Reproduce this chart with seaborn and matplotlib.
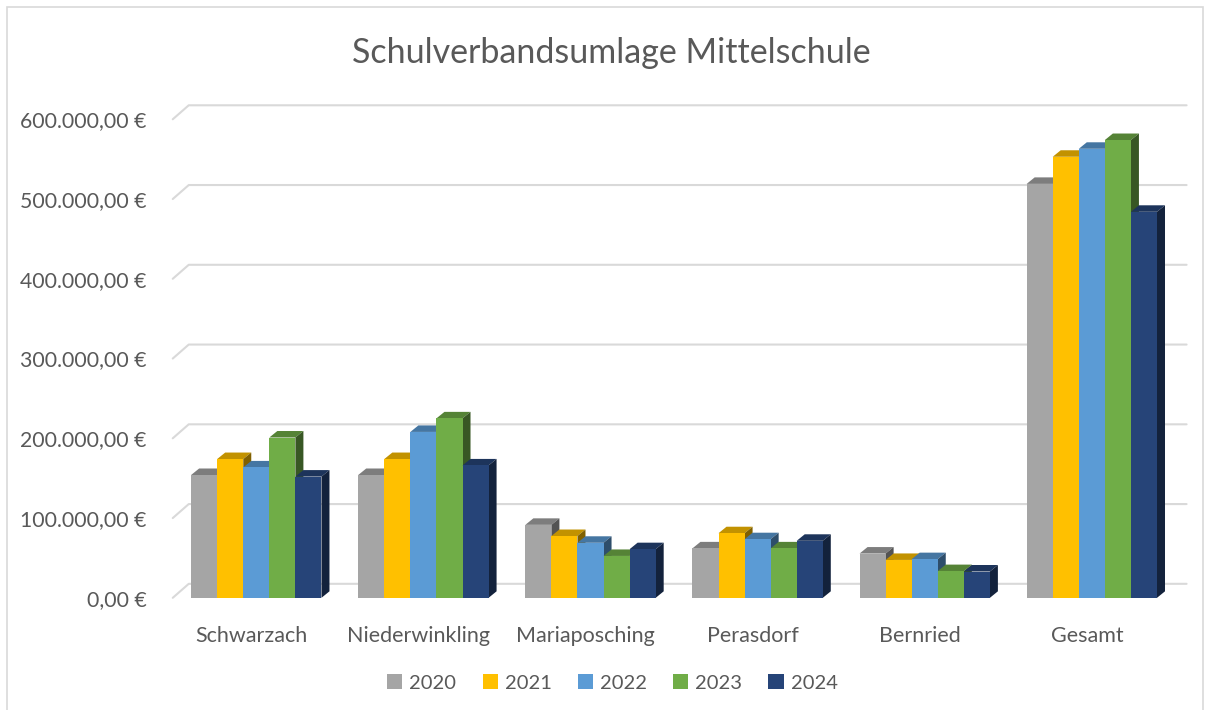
import numpy as np
import pandas as pd
import seaborn as sns
import matplotlib.pyplot as plt
import matplotlib.transforms as mtransforms
from matplotlib.patches import Polygon, Rectangle
from matplotlib.colors import to_rgb

gemeinden = ['Schwarzach', 'Niederwinkling', 'Mariaposching', 'Perasdorf', 'Bernried', 'Gesamt']
jahre = ['2020', '2021', '2022', '2023', '2024']

# Umlage je Gemeinde und Jahr
werte_2020 = [154000, 154000, 91500, 62000, 55500, 519000]
werte_2021 = [174000, 174000, 77500, 81000, 47500, 553000]
werte_2022 = [163500, 208000, 69000, 73500, 48500, 563000]
werte_2023 = [201000, 225000, 52500, 62000, 33500, 574000]
werte_2024 = [152000, 166000, 61000, 71500, 33000, 484000]

farben = ['#A5A5A5', '#FFC000', '#5B9BD5', '#70AD47', '#264478']
yticks = [0, 100000, 200000, 300000, 400000, 500000, 600000]

df = pd.DataFrame({
    'Gemeinde': gemeinden * 5,
    'Jahr': sum([[j] * 6 for j in jahre], []),
    'Betrag': werte_2020 + werte_2021 + werte_2022 + werte_2023 + werte_2024,
})

sns.set_style('white')
plt.rcParams['font.family'] = ['Lato', 'DejaVu Sans']
text_col = '#595959'

fig = plt.figure(figsize=(12.08, 7.10), dpi=100)
ax = fig.add_axes([0.143, 0.158, 0.830, 0.674])

sns.barplot(data=df, x='Gemeinde', y='Betrag', hue='Jahr', hue_order=jahre,
            palette=farben, width=0.78, gap=0, linewidth=0, saturation=1,
            errorbar=None, ax=ax)

ax.set_xlim(-0.5, 5.5)
ax.set_ylim(0, 600000)
ax.set_xlabel('')
ax.set_ylabel('')
sns.despine(ax=ax, left=True, bottom=True)
ax.set_yticks(yticks)
ax.set_yticklabels([f'{v:,.2f} €'.replace(',', 'X').replace('.', ',').replace('X', '.') for v in yticks])
ax.tick_params(axis='y', length=0, pad=19, labelsize=15.3, labelcolor=text_col)
ax.tick_params(axis='x', length=0, pad=20, labelsize=15.5, labelcolor=text_col)

# x labels sit a little left of the bar groups
shift = mtransforms.ScaledTranslation(-5 / 100, 0, fig.dpi_scale_trans)
for lab in ax.get_xticklabels():
    lab.set_transform(lab.get_transform() + shift)

handles, labels = ax.get_legend_handles_labels()
ax.get_legend().remove()

# pixel -> data conversion for the 3D look
px_x = 6 / (fig.get_figwidth() * fig.dpi * 0.830)
px_y = 600000 / (fig.get_figheight() * fig.dpi * 0.674)

# back wall gridlines
gdx, gdy = 16 * px_x, 14 * px_y
for v in yticks:
    ax.plot([-0.5, -0.5 + gdx, 5.5 + gdx * 0.7], [v, v + gdy, v + gdy],
            color='#D9D9D9', lw=1.5, zorder=0.5, clip_on=False)

# bars with top and side faces
bdx, bdy = 8 * px_x, 6.5 * px_y
bars = sorted(ax.patches, key=lambda p: p.get_x())
for i, p in enumerate(bars):
    x0, w, h = p.get_x(), p.get_width(), p.get_height()
    c = np.array(to_rgb(p.get_facecolor()))
    z = 2 + i * 0.01
    p.set_zorder(z + 0.002)
    top = Polygon([(x0, h), (x0 + w, h), (x0 + w + bdx, h + bdy), (x0 + bdx, h + bdy)],
                  closed=True, facecolor=c * 0.76, lw=0, zorder=z, clip_on=False)
    side = Polygon([(x0 + w, 0), (x0 + w + bdx, bdy), (x0 + w + bdx, h + bdy), (x0 + w, h)],
                   closed=True, facecolor=c * 0.5, lw=0, zorder=z + 0.001, clip_on=False)
    ax.add_patch(top)
    ax.add_patch(side)

fig.text(0.506, 0.925, 'Schulverbandsumlage Mittelschule', ha='center', va='center',
         fontsize=24.5, color=text_col)

fig.legend(handles, labels, loc='center', bbox_to_anchor=(0.507, 0.038), ncol=5,
           frameon=False, fontsize=14.5, handlelength=0.75, handleheight=0.75,
           handletextpad=0.35, columnspacing=1.3, labelcolor=text_col)

fig.patches.append(Rectangle((0.006, -0.01), 0.99, 1.0, transform=fig.transFigure,
                             fill=False, edgecolor='#D9D9D9', lw=1.2))

fig.savefig('out.png', dpi=100)
